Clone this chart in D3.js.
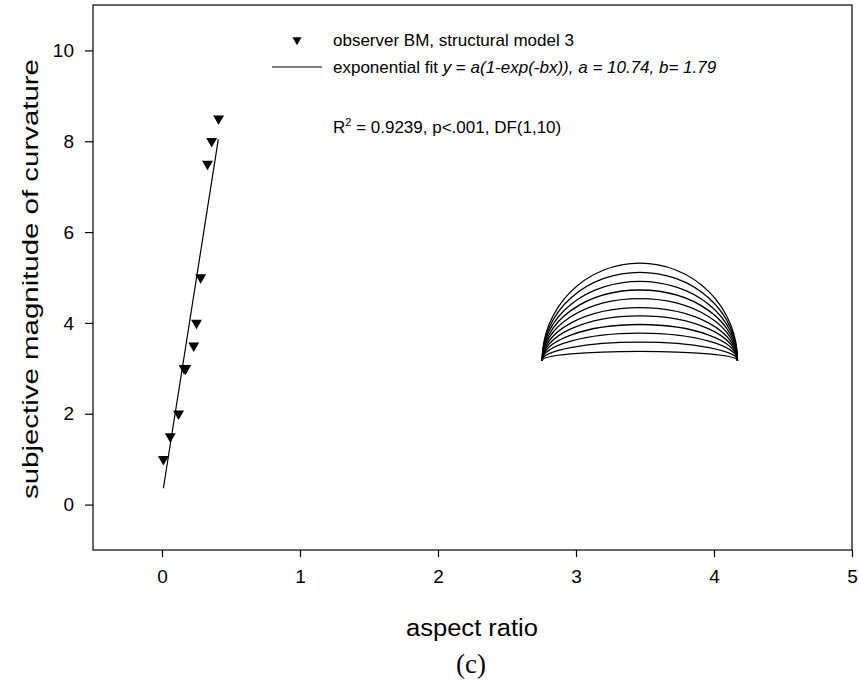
<!DOCTYPE html>
<html><head><meta charset="utf-8">
<script src="https://cdn.jsdelivr.net/npm/d3@7"></script>
<style>
body{margin:0;background:#fff;}
text{font-family:"Liberation Sans",Arial,sans-serif;fill:#000;}
</style></head>
<body><svg id="c" width="859" height="685"></svg>
<script>
// observed data (aspect ratio, subjective magnitude)
const obsX = [0.01, 0.06, 0.12, 0.16, 0.17, 0.17, 0.23, 0.25, 0.28, 0.33, 0.36, 0.41];
const obsY = [1.0, 1.5, 2.0, 3.0, 3.0, 3.0, 3.5, 4.0, 5.0, 7.5, 8.0, 8.5];
// fitted line as drawn
const fitX = [0.01, 0.408];
const fitY = [0.36, 8.04];
// stimulus icon: semi-ellipse arcs (data units)
const arcX0 = 2.755, arcX1 = 4.17, arcBase = 3.175;
const arcHeights = [0.2, 0.4, 0.6, 0.79, 0.98, 1.16, 1.36, 1.55, 1.74, 1.94, 2.14];
const xTicks = [0, 1, 2, 3, 4, 5];
const yTicks = [0, 2, 4, 6, 8, 10];

const svg = d3.select("#c");
const L = 93, R = 852, T = 5, B = 550;
const x = d3.scaleLinear().domain([-0.5, 5]).range([L, R]);
const y = d3.scaleLinear().domain([-1, 11]).range([B, T]);

// frame
svg.append("rect").attr("x", L).attr("y", T).attr("width", R - L).attr("height", B - T)
  .attr("fill", "none").attr("stroke", "#000").attr("stroke-width", 1.2);

// axes
const xa = svg.append("g").attr("transform", `translate(0,${B})`)
  .call(d3.axisBottom(x).tickValues(xTicks).tickSize(7).tickPadding(13).tickFormat(d3.format("d")));
xa.select(".domain").remove();
xa.selectAll("text").attr("font-size", 19).attr("font-family", "Liberation Sans, Arial, sans-serif");
const ya = svg.append("g").attr("transform", `translate(${L},0)`)
  .call(d3.axisLeft(y).tickValues(yTicks).tickSize(8).tickPadding(11).tickFormat(d3.format("d")));
ya.select(".domain").remove();
ya.selectAll("text").attr("font-size", 19).attr("font-family", "Liberation Sans, Arial, sans-serif");
svg.selectAll(".tick line").attr("stroke-width", 1.2);

// axis titles
svg.append("text").attr("x", 472).attr("y", 636).attr("text-anchor", "middle")
  .attr("font-size", 23).attr("textLength", 132).attr("lengthAdjust", "spacingAndGlyphs").text("aspect ratio");
svg.append("text").attr("transform", "translate(38,279) rotate(-90)").attr("text-anchor", "middle")
  .attr("font-size", 22).attr("textLength", 440).attr("lengthAdjust", "spacingAndGlyphs")
  .text("subjective magnitude of curvature");
svg.append("text").attr("x", 471).attr("y", 673).attr("text-anchor", "middle")
  .attr("font-size", 27).style("font-family", "Liberation Serif, Times New Roman, serif").text("(c)");

// fit line
const fit = fitX.map((v, i) => [v, fitY[i]]);
svg.append("path").datum(fit)
  .attr("d", d3.line().x(d => x(d[0])).y(d => y(d[1])))
  .attr("fill", "none").attr("stroke", "#000").attr("stroke-width", 1.2);

// triangles (downward)
const tri = d3.symbol().type(d3.symbolTriangle).size(52);
svg.append("g").selectAll("path").data(obsX.map((v, i) => [v, obsY[i]])).join("path")
  .attr("d", tri)
  .attr("transform", d => `translate(${x(d[0])},${y(d[1])}) rotate(180)`)
  .attr("fill", "#000");

// stimulus arcs
const cx = (arcX0 + arcX1) / 2, rxD = (arcX1 - arcX0) / 2;
svg.append("g").selectAll("path").data(arcHeights).join("path")
  .attr("d", h => {
    const rx = x(cx + rxD) - x(cx), ry = y(arcBase) - y(arcBase + h);
    return `M${x(arcX0)},${y(arcBase)} A${rx},${ry} 0 0 1 ${x(arcX1)},${y(arcBase)}`;
  })
  .attr("fill", "none").attr("stroke", "#000").attr("stroke-width", 1.3);

// legend
const lg = svg.append("g");
lg.append("path").attr("d", d3.symbol().type(d3.symbolTriangle).size(36)())
  .attr("transform", "translate(297,40) rotate(180)").attr("fill", "#000");
lg.append("text").attr("x", 333).attr("y", 46).attr("font-size", 17).text("observer BM, structural model 3");
lg.append("line").attr("x1", 272).attr("x2", 322).attr("y1", 67).attr("y2", 67)
  .attr("stroke", "#000").attr("stroke-width", 1.2);
const t2 = lg.append("text").attr("x", 333).attr("y", 73).attr("font-size", 17);
t2.append("tspan").text("exponential fit ");
t2.append("tspan").attr("font-style", "italic").text("y");
t2.append("tspan").text(" = ");
t2.append("tspan").attr("font-style", "italic").text("a(1-exp(-bx)), a = 10.74, b= 1.79");
const t3 = lg.append("text").attr("x", 333).attr("y", 133).attr("font-size", 17);
t3.append("tspan").text("R");
t3.append("tspan").attr("font-size", 11).attr("dy", -7).text("2");
t3.append("tspan").attr("dy", 7).text(" = 0.9239, p<.001, DF(1,10)");
</script></body></html>
